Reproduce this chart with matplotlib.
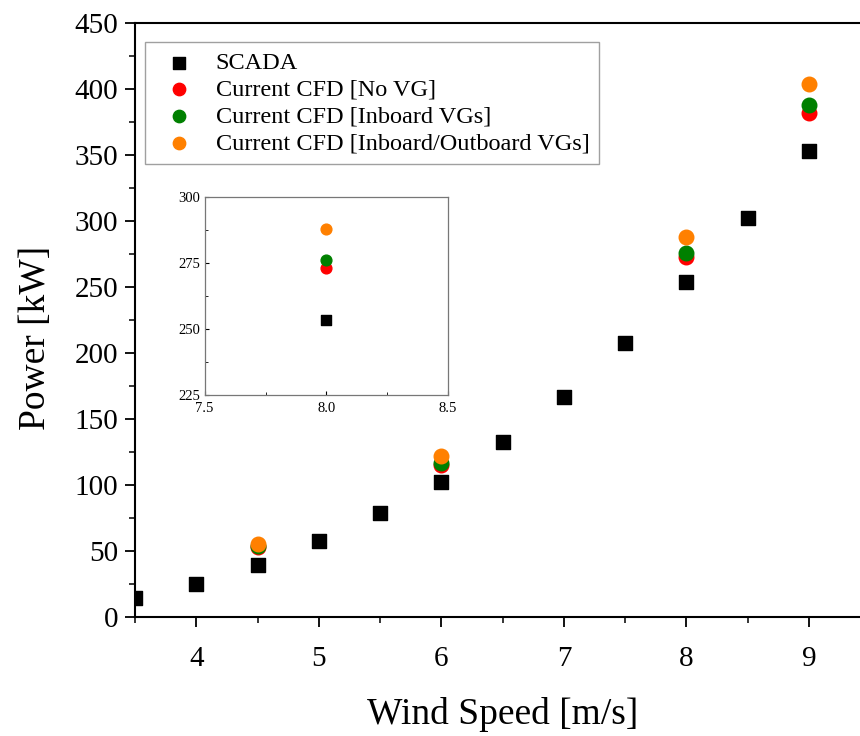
import numpy as np
import matplotlib
matplotlib.use("Agg")
import matplotlib.pyplot as plt
from matplotlib.ticker import MultipleLocator

plt.rcParams['font.family'] = ['Liberation Serif', 'DejaVu Serif']

# -- data --
scada_ws = [3.5, 4.0, 4.5, 5.0, 5.5, 6.0, 6.5, 7.0, 7.5, 8.0, 8.5, 9.0]
scada_pw = [14.5, 25, 39.5, 57.5, 78.5, 102.5, 132.5, 166.5, 207.5, 253.5, 302, 353]

cfd_ws = [4.5, 6.0, 8.0, 9.0]
cfd_novg = [53, 115.5, 273, 382]
cfd_inboard = [53.5, 117, 276, 388]
cfd_inout = [55.5, 122, 288, 404]

series = [
    ("Current CFD [No VG]", cfd_novg, "#ff0000"),
    ("Current CFD [Inboard VGs]", cfd_inboard, "#008000"),
    ("Current CFD [Inboard/Outboard VGs]", cfd_inout, "#ff8000"),
]

fig = plt.figure(figsize=(8.6, 7.36), dpi=100)
ax = fig.add_axes([0.157, 0.1617, 0.855, 0.807])

ax.scatter(scada_ws, scada_pw, marker='s', s=90, color='black', label="SCADA", zorder=3)
for name, vals, col in series:
    ax.scatter(cfd_ws, vals, marker='o', s=110, color=col, label=name, zorder=3)

ax.set_xlim(3.5, 9.5)
ax.set_ylim(0, 450)
ax.xaxis.set_major_locator(MultipleLocator(1))
ax.xaxis.set_minor_locator(MultipleLocator(0.5))
ax.yaxis.set_major_locator(MultipleLocator(50))
ax.yaxis.set_minor_locator(MultipleLocator(25))
ax.tick_params(which='major', direction='out', length=7, width=1.3, labelsize=21)
ax.tick_params(axis='x', which='major', pad=14)
ax.tick_params(axis='y', which='major', pad=5)
ax.tick_params(which='minor', direction='out', length=4, width=1.1)
for sp in ax.spines.values():
    sp.set_linewidth(1.5)

ax.set_xlabel("Wind Speed [m/s]", fontsize=27, labelpad=18)
ax.set_ylabel("Power [kW]", fontsize=27)
ax.yaxis.set_label_coords(-0.112, 0.47)

leg = ax.legend(loc='upper left', bbox_to_anchor=(0.004, 0.98), fontsize=17.5,
                frameon=True, fancybox=False, edgecolor='#888888',
                handletextpad=0.5, labelspacing=0.2, borderpad=0.4,
                markerscale=0.85, scatterpoints=1, borderaxespad=0.3)
leg.get_frame().set_linewidth(1.0)

# -- inset --
axin = fig.add_axes([0.238, 0.4633, 0.283, 0.269])
axin.scatter([8.0], [scada_pw[9]], marker='s', s=45, color='black', zorder=3)
for name, vals, col in series:
    axin.scatter([8.0], [vals[2]], marker='o', s=60, color=col, zorder=3)
axin.set_xlim(7.5, 8.5)
axin.set_ylim(225, 300)
axin.set_xticks([7.5, 8.0, 8.5])
axin.set_yticks([225, 250, 275, 300])
axin.xaxis.set_minor_locator(MultipleLocator(0.25))
axin.yaxis.set_minor_locator(MultipleLocator(12.5))
axin.tick_params(which='major', direction='in', length=3, width=0.8, labelsize=10.5)
axin.tick_params(axis='x', which='major', pad=5)
axin.tick_params(axis='y', which='major', pad=3)
axin.tick_params(which='minor', direction='in', length=2, width=0.6)
for sp in axin.spines.values():
    sp.set_color('#777777')
    sp.set_linewidth(0.9)

fig.savefig("out.png", dpi=100)
